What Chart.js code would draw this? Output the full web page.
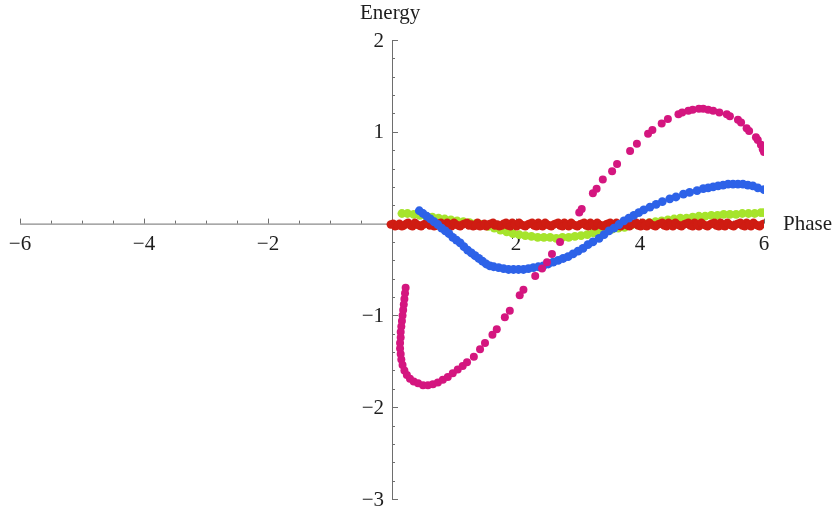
<!DOCTYPE html>
<html>
<head>
<meta charset="utf-8">
<script src="https://cdn.jsdelivr.net/npm/chart.js@4"></script>
<style>
  body { margin: 0; background: #fff; }
  canvas { display: block; }
</style>
</head>
<body>
<canvas id="chart" width="840" height="513"></canvas>
<script>
// axis ranges and tick labels
const xRange = [-6, 6];
const yRange = [-3, 2];
const xLabels = [-6, -4, -2, 2, 4, 6];
const yLabels = [2, 1, -1, -2, -3];
const xTitle = 'Phase';
const yTitle = 'Energy';

// series, [phase, energy]
const pinkPoints = [
  [0.22,-0.70],[0.21,-0.76],[0.20,-0.82],[0.19,-0.88],[0.18,-0.94],[0.17,-1.00],[0.16,-1.06],
  [0.15,-1.12],[0.14,-1.18],[0.14,-1.24],[0.13,-1.30],[0.13,-1.36],[0.14,-1.42],[0.15,-1.48],
  [0.17,-1.54],[0.20,-1.60],[0.24,-1.65],[0.29,-1.69],[0.35,-1.72],[0.42,-1.74],[0.50,-1.76],
  [0.58,-1.76],[0.66,-1.75],[0.74,-1.73],[0.82,-1.70],[0.90,-1.67],[0.98,-1.63],[1.06,-1.59],
  [1.14,-1.55],[1.21,-1.51],[1.32,-1.45],[1.42,-1.37],[1.50,-1.30],[1.62,-1.21],[1.69,-1.15],
  [1.82,-1.02],[1.90,-0.95],[2.06,-0.78],[2.12,-0.72],[2.31,-0.57],[2.42,-0.49],[2.50,-0.42],
  [2.58,-0.33],[2.71,-0.20],[3.02,0.12],[3.06,0.16],[3.24,0.33],[3.30,0.38],[3.40,0.48],
  [3.55,0.57],[3.63,0.65],[3.84,0.79],[3.95,0.87],[4.13,0.98],[4.20,1.02],[4.35,1.09],
  [4.45,1.14],[4.62,1.19],[4.68,1.21],[4.78,1.23],[4.85,1.24],[4.95,1.25],[5.02,1.25],
  [5.10,1.24],[5.18,1.23],[5.28,1.21],[5.40,1.19],[5.45,1.17],[5.58,1.13],[5.63,1.10],
  [5.72,1.04],[5.76,1.01],[5.87,0.94],[5.90,0.91],[5.95,0.86],[5.98,0.81],[6.00,0.78]
];

const bluePoints = [
  [0.44,0.14],[0.50,0.11],[0.56,0.08],[0.62,0.05],[0.68,0.02],[0.74,-0.01],[0.80,-0.05],
  [0.86,-0.08],[0.92,-0.11],[0.98,-0.15],[1.04,-0.18],[1.10,-0.21],[1.16,-0.25],[1.22,-0.29],
  [1.28,-0.32],[1.34,-0.35],[1.40,-0.38],[1.46,-0.41],[1.52,-0.44],[1.58,-0.46],[1.64,-0.47],
  [1.72,-0.48],[1.80,-0.49],[1.88,-0.50],[1.96,-0.50],[2.04,-0.50],[2.12,-0.50],[2.20,-0.49],
  [2.28,-0.48],[2.36,-0.47],[2.44,-0.46],[2.52,-0.44],[2.60,-0.42],[2.68,-0.40],[2.76,-0.38],
  [2.84,-0.36],[2.92,-0.33],[3.00,-0.30],[3.08,-0.27],[3.16,-0.23],[3.24,-0.20],[3.34,-0.16],
  [3.42,-0.12],[3.50,-0.08],[3.58,-0.05],[3.66,-0.01],[3.74,0.03],[3.82,0.06],[3.90,0.09],
  [3.98,0.12],[4.06,0.15],[4.16,0.18],[4.26,0.21],[4.36,0.24],[4.48,0.27],[4.58,0.29],
  [4.70,0.32],[4.80,0.34],[4.92,0.36],[5.02,0.38],[5.10,0.39],[5.18,0.40],[5.26,0.41],
  [5.34,0.42],[5.42,0.43],[5.50,0.43],[5.58,0.43],[5.66,0.43],[5.74,0.42],[5.82,0.41],
  [5.90,0.39],[6.00,0.37]
];

const greenPoints = [
  [0.16,0.11],[0.25,0.11],[0.35,0.10],[0.45,0.09],[0.55,0.08],[0.65,0.07],[0.75,0.06],
  [0.85,0.05],[0.95,0.04],[1.05,0.03],[1.15,0.02],[1.25,0.01],[1.35,0.00],[1.45,-0.01],
  [1.55,-0.03],[1.65,-0.05],[1.75,-0.07],[1.85,-0.09],[1.95,-0.11],[2.05,-0.12],[2.15,-0.13],
  [2.25,-0.14],[2.35,-0.15],[2.45,-0.15],[2.55,-0.15],[2.65,-0.16],[2.75,-0.15],[2.85,-0.15],
  [2.95,-0.14],[3.05,-0.13],[3.15,-0.12],[3.25,-0.10],[3.35,-0.09],[3.45,-0.07],[3.55,-0.06],
  [3.65,-0.05],[3.75,-0.04],[3.85,-0.02],[3.95,-0.01],[4.05,0.00],[4.15,0.01],[4.25,0.02],
  [4.35,0.03],[4.45,0.04],[4.55,0.05],[4.65,0.06],[4.75,0.06],[4.85,0.07],[4.95,0.08],
  [5.05,0.08],[5.15,0.09],[5.25,0.09],[5.35,0.10],[5.45,0.10],[5.55,0.10],[5.65,0.11],
  [5.75,0.11],[5.85,0.11],[5.95,0.12],[6.00,0.12]
];

// red sits on the axis as a thick noisy band
const redPoints = [
  [-0.02,-0.01],[0.05,-0.03],[0.12,0.00],[0.19,-0.02],[0.26,0.01],[0.33,-0.03],[0.40,-0.01],
  [0.47,-0.03],[0.54,0.00],[0.61,-0.02],[0.68,-0.03],[0.75,0.00],[0.82,-0.02],[0.89,0.01],
  [0.96,-0.03],[1.03,-0.01],[1.10,-0.03],[1.17,0.00],[1.24,-0.02],[1.31,-0.03],[1.38,0.01],
  [1.45,-0.02],[1.52,-0.03],[1.59,0.00],[1.66,-0.02],[1.73,-0.03],[1.80,0.00],[1.87,-0.02],
  [1.94,0.01],[2.01,-0.03],[2.08,-0.01],[2.15,-0.03],[2.22,0.00],[2.29,-0.02],[2.36,0.01],
  [2.43,-0.03],[2.50,-0.01],[2.57,-0.03],[2.64,0.00],[2.71,-0.02],[2.78,0.01],[2.85,-0.03],
  [2.92,-0.01],[2.99,-0.03],[3.06,0.00],[3.13,-0.02],[3.20,0.01],[3.27,-0.03],[3.34,-0.01],
  [3.41,-0.03],[3.48,0.00],[3.55,-0.02],[3.62,0.01],[3.69,-0.03],[3.76,-0.01],[3.83,-0.03],
  [3.90,0.00],[3.97,-0.02],[4.04,0.01],[4.11,-0.03],[4.18,-0.01],[4.25,-0.03],[4.32,0.00],
  [4.39,-0.02],[4.46,0.01],[4.53,-0.03],[4.60,-0.01],[4.67,-0.03],[4.74,0.00],[4.81,-0.02],
  [4.88,0.01],[4.95,-0.03],[5.02,-0.01],[5.09,-0.03],[5.16,0.00],[5.23,-0.02],[5.30,0.01],
  [5.37,-0.03],[5.44,-0.01],[5.51,-0.03],[5.58,0.00],[5.65,-0.02],[5.72,0.01],[5.79,-0.03],
  [5.86,-0.01],[5.93,-0.03],[6.00,0.00],
  [0.02,0.00],[0.09,-0.02],[0.16,-0.03],[0.23,0.00],[0.30,-0.02],[0.37,0.01],[0.44,-0.02],
  [0.51,-0.01],[0.58,0.01],[0.65,-0.01],[0.72,-0.02],[0.79,0.01],[0.86,-0.03],[0.93,-0.01],
  [1.00,0.01],[1.07,-0.02],[1.14,-0.01],[1.21,0.01],[1.28,-0.01],[1.35,-0.02],[1.42,-0.03],
  [1.49,0.00],[1.56,-0.01],[1.63,0.01],[1.70,-0.01],[1.77,-0.02],[1.84,0.01],[1.91,-0.03],
  [1.98,-0.01],[2.05,0.01],[2.12,-0.02],[2.19,-0.01],[2.26,0.01],[2.33,-0.03],[2.40,-0.02],
  [2.47,0.01],[2.54,-0.02],[2.61,-0.01],[2.68,0.01],[2.75,-0.03],[2.82,-0.01],[2.89,0.01],
  [2.96,-0.02],[3.03,-0.01],[3.10,0.01],[3.17,-0.03],[3.24,-0.01],[3.31,0.01],[3.38,-0.02],
  [3.45,-0.01],[3.52,0.01],[3.59,-0.03],[3.66,-0.01],[3.73,0.01],[3.80,-0.02],[3.87,-0.01],
  [3.94,0.01],[4.01,-0.03],[4.08,-0.02],[4.15,0.01],[4.22,-0.02],[4.29,-0.01],[4.36,0.01],
  [4.43,-0.03],[4.50,-0.01],[4.57,0.01],[4.64,-0.02],[4.71,-0.01],[4.78,0.01],[4.85,-0.03],
  [4.92,-0.01],[4.99,0.01],[5.06,-0.02],[5.13,-0.01],[5.20,0.01],[5.27,-0.03],[5.34,-0.02],
  [5.41,0.01],[5.48,-0.02],[5.55,-0.01],[5.62,0.01],[5.69,-0.03],[5.76,-0.01],[5.83,0.01],
  [5.90,-0.02],[5.97,-0.01]
];

const toXY = pts => pts.map(p => ({ x: p[0], y: p[1] }));

const serif = '"Liberation Serif", "DejaVu Serif", serif';
const axisColor = '#6e6e6e';

// Mathematica-style axes crossing at the origin
const crossAxes = {
  id: 'crossAxes',
  beforeDatasetsDraw(chart) {
    const ctx = chart.ctx;
    const xs = chart.scales.x, ys = chart.scales.y;
    const ox = xs.getPixelForValue(0), oy = ys.getPixelForValue(0);
    ctx.save();
    ctx.strokeStyle = axisColor;
    ctx.lineWidth = 1;
    ctx.beginPath();
    ctx.moveTo(xs.getPixelForValue(xRange[0]), oy + 0.5);
    ctx.lineTo(xs.getPixelForValue(xRange[1]), oy + 0.5);
    ctx.moveTo(ox + 0.5, ys.getPixelForValue(yRange[1]));
    ctx.lineTo(ox + 0.5, ys.getPixelForValue(yRange[0]));
    // x ticks every 0.5, pointing up
    for (let i = xRange[0] * 2; i <= xRange[1] * 2; i++) {
      if (i === 0) continue;
      const px = Math.round(xs.getPixelForValue(i / 2)) + 0.5;
      const len = (i % 4 === 0) ? 5 : 3;
      ctx.moveTo(px, oy);
      ctx.lineTo(px, oy - len);
    }
    // y ticks every 0.2, pointing right
    for (let i = yRange[0] * 5; i <= yRange[1] * 5; i++) {
      if (i === 0) continue;
      const py = Math.round(ys.getPixelForValue(i / 5)) + 0.5;
      const len = (i % 5 === 0) ? 6 : 3;
      ctx.moveTo(ox, py);
      ctx.lineTo(ox + len, py);
    }
    ctx.stroke();

    ctx.fillStyle = '#1e1e1e';
    ctx.font = '21px ' + serif;
    ctx.textAlign = 'center';
    ctx.textBaseline = 'alphabetic';
    xLabels.forEach(v => {
      const t = v < 0 ? '\u2212' + (-v) : String(v);
      ctx.fillText(t, xs.getPixelForValue(v), oy + 26);
    });
    ctx.textAlign = 'right';
    ctx.textBaseline = 'middle';
    yLabels.forEach(v => {
      const t = v < 0 ? '\u2212' + (-v) : String(v);
      ctx.fillText(t, ox - 8, ys.getPixelForValue(v) + 1);
    });
    ctx.textBaseline = 'alphabetic';
    ctx.textAlign = 'left';
    ctx.fillText(xTitle, xs.getPixelForValue(xRange[1]) + 19, oy + 6);
    ctx.fillText(yTitle, ox - 32, ys.getPixelForValue(yRange[1]) - 21);
    ctx.restore();
  }
};

const dot = (data, color, r) => ({
  data: toXY(data),
  backgroundColor: color,
  borderWidth: 0,
  pointRadius: r,
  showLine: false
});

new Chart(document.getElementById('chart'), {
  type: 'scatter',
  data: {
    datasets: [
      dot(pinkPoints, '#d4167f', 4),
      dot(bluePoints, '#2d62e8', 4.4),
      dot(redPoints, '#cf1c12', 4.2),
      dot(greenPoints, '#a6e42c', 4.4)
    ]
  },
  options: {
    responsive: false,
    animation: false,
    layout: { padding: { left: 20, right: 76, top: 40, bottom: 14 } },
    plugins: { legend: { display: false }, tooltip: { enabled: false } },
    scales: {
      x: { type: 'linear', min: xRange[0], max: xRange[1], display: false },
      y: { type: 'linear', min: yRange[0], max: yRange[1], display: false }
    }
  },
  plugins: [crossAxes]
});
</script>
</body>
</html>
